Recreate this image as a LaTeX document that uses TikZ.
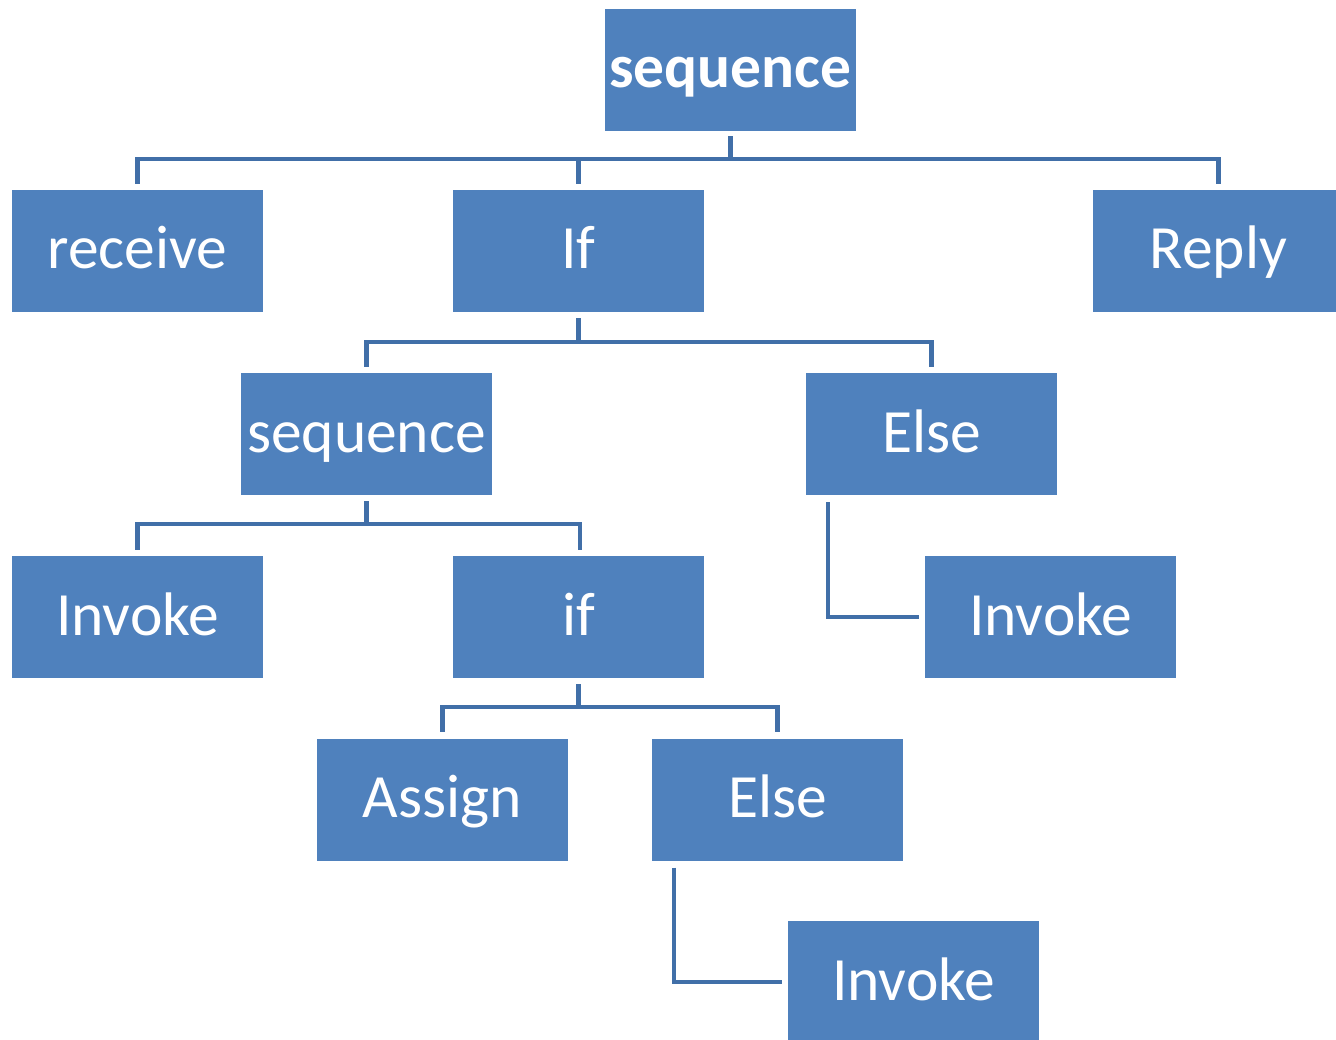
\documentclass[tikz,border=0pt]{standalone}
\usepackage{fontspec}
\setmainfont{Carlito}
\definecolor{boxblue}{HTML}{4F81BD}
\definecolor{lineblue}{HTML}{416FA8}
\begin{document}
\begin{tikzpicture}[x=1pt,y=-1pt,
  box/.style={fill=boxblue, draw=none, minimum width=251pt, minimum height=122pt, inner sep=0pt, text height=46pt, text depth=10pt, text=white, font=\fontsize{61.5}{64}\selectfont},
  conn/.style={draw=lineblue, line width=4.5pt, line join=miter}]
\useasboundingbox (0,0) rectangle (1336,1040);
\node[box] (top) at (730.5,70) {\textbf{sequence}};
\node[box] (recv) at (137.5,251) {receive};
\node[box] (ifA) at (578.5,251) {If};
\node[box] (reply) at (1218.5,251) {Reply};
\node[box] (seqB) at (366.5,434) {sequence};
\node[box] (elseA) at (931.5,434) {Else};
\node[box] (invA) at (137.5,617) {Invoke};
\node[box] (ifB) at (578.5,617) {if};
\node[box] (invB) at (1050.5,617) {Invoke};
\node[box] (assign) at (442.5,799.5) {Assign};
\node[box] (elseB) at (777.5,799.5) {Else};
\node[box] (invC) at (913.5,982) {Invoke};
% sequence -> receive, If, Reply
\draw[conn] ([yshift=-5pt]top.south) -- ++(0,23) -| ([yshift=6pt]recv.north);
\draw[conn] ([yshift=-5pt]top.south) -- ++(0,23) -| ([yshift=6pt]ifA.north);
\draw[conn] ([yshift=-5pt]top.south) -- ++(0,23) -| ([yshift=6pt]reply.north);
% If -> sequence, Else
\draw[conn] ([yshift=-6pt]ifA.south) -- ++(0,24) -| ([yshift=6pt]seqB.north);
\draw[conn] ([yshift=-6pt]ifA.south) -- ++(0,24) -| ([yshift=6pt]elseA.north);
% sequence -> Invoke, if
\draw[conn] ([yshift=-6pt]seqB.south) -- ++(0,23) -| ([yshift=6pt]invA.north);
\draw[conn] ([yshift=-6pt]seqB.south) -- ++(0,23) -| ([xshift=1.5pt,yshift=6pt]ifB.north);
% if -> Assign, Else
\draw[conn] ([yshift=-6pt]ifB.south) -- ++(0,23) -| ([yshift=6pt]assign.north);
\draw[conn] ([yshift=-6pt]ifB.south) -- ++(0,23) -| ([yshift=6pt]elseB.north);
% Else -> Invoke (L shapes)
\draw[conn] ([xshift=22pt,yshift=-7pt]elseA.south west) |- ([xshift=-6pt]invB.west);
\draw[conn] ([xshift=22pt,yshift=-7pt]elseB.south west) |- ([xshift=-6pt]invC.west);
\end{tikzpicture}
\end{document}
